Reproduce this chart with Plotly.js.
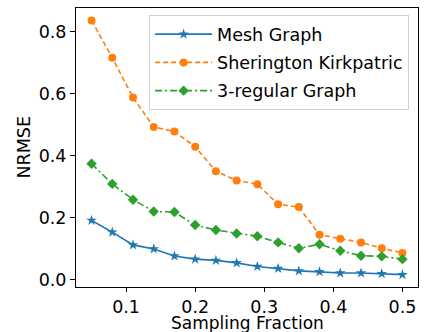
<!DOCTYPE html>
<html>
<head>
<script src="https://cdn.plot.ly/plotly-3.0.1.min.js"></script>
<style>html,body{margin:0;padding:0;background:#fff;}#chart{width:424px;height:332px;}</style>
</head>
<body>
<div id="chart"></div>
<script>
const samplingFraction = [0.05, 0.08, 0.11, 0.14, 0.17, 0.20, 0.23, 0.26, 0.29, 0.32, 0.35, 0.38, 0.41, 0.44, 0.47, 0.50];
const meshGraph = [0.191, 0.153, 0.112, 0.099, 0.076, 0.066, 0.062, 0.054, 0.042, 0.036, 0.028, 0.025, 0.021, 0.021, 0.019, 0.016];
const sherringtonKirkpatric = [0.837, 0.716, 0.588, 0.493, 0.478, 0.429, 0.350, 0.320, 0.308, 0.243, 0.234, 0.145, 0.132, 0.120, 0.101, 0.086];
const regular3Graph = [0.374, 0.309, 0.258, 0.220, 0.218, 0.176, 0.160, 0.149, 0.140, 0.120, 0.101, 0.114, 0.093, 0.077, 0.075, 0.066];
const seriesNames = ["Mesh Graph", "Sherington Kirkpatric", "3-regular Graph"];
const xTicks = [0.1, 0.2, 0.3, 0.4, 0.5];
const yTicks = [0.0, 0.2, 0.4, 0.6, 0.8];
const xTitle = "Sampling Fraction";
const yTitle = "NRMSE";

const traces = [
  {x: samplingFraction, y: meshGraph, name: seriesNames[0], mode: "lines+markers", legendgroup: "a",
   line: {color: "#1f77b4", width: 1.6, dash: "solid"},
   marker: {symbol: "star", size: 8, color: "#1f77b4"}},
  {x: samplingFraction, y: sherringtonKirkpatric, name: seriesNames[1], mode: "lines+markers", legendgroup: "b",
   line: {color: "#ff7f0e", width: 1.6, dash: "5px,3px"},
   marker: {symbol: "circle", size: 8, color: "#ff7f0e"}},
  {x: samplingFraction, y: regular3Graph, name: seriesNames[2], mode: "lines+markers", legendgroup: "c",
   line: {color: "#2ca02c", width: 1.6, dash: "7px,3px,2px,3px"},
   marker: {symbol: "diamond", size: 8, color: "#2ca02c"}}
];

const layout = {
  width: 424, height: 332,
  margin: {l: 76, r: 6, t: 8, b: 45},
  paper_bgcolor: "#fff", plot_bgcolor: "#fff",
  font: {family: "DejaVu Sans", size: 17.5, color: "#000"},
  showlegend: true,
  legend: {x: 0.974, y: 0.974, xanchor: "right", yanchor: "top",
    bgcolor: "rgba(255,255,255,0.8)", bordercolor: "#d0d0d0", borderwidth: 1,
    font: {family: "DejaVu Sans", size: 17.5}, tracegroupgap: 2.5, itemwidth: 57},
  xaxis: {range: [0.0275, 0.5225], tickvals: xTicks, ticktext: xTicks.map(v => v.toFixed(1)),
    showgrid: false, zeroline: false, showline: true, mirror: true, linecolor: "#000", linewidth: 1,
    ticks: "outside", ticklen: 4, tickcolor: "#000", automargin: false},
  yaxis: {range: [-0.024, 0.877], tickvals: yTicks, ticktext: yTicks.map(v => v.toFixed(1)),
    showgrid: false, zeroline: false, showline: true, mirror: true, linecolor: "#000", linewidth: 1,
    ticks: "outside", ticklen: 5, tickcolor: "#000", automargin: false},
  annotations: [
    {text: xTitle, xref: "paper", yref: "paper", x: 0.5, y: 0, xanchor: "center", yanchor: "top",
     yshift: -24, showarrow: false, font: {size: 17}},
    {text: yTitle, xref: "paper", yref: "paper", x: 0, y: 0.5, xanchor: "right", yanchor: "middle",
     xshift: -41, textangle: -90, showarrow: false, font: {size: 17.5}}
  ]
};
Plotly.newPlot("chart", traces, layout, {displayModeBar: false, staticPlot: true});
</script>
</body>
</html>
